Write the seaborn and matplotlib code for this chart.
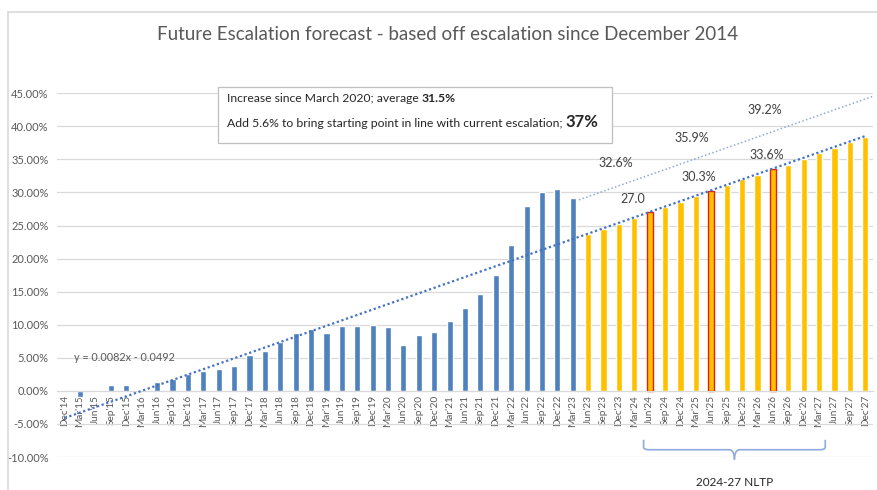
import numpy as np
import pandas as pd
import matplotlib
matplotlib.use("Agg")
import matplotlib.pyplot as plt
from matplotlib.path import Path
from matplotlib.patches import PathPatch, Rectangle
import seaborn as sns

# quarterly labels, Dec'14 .. Dec'27
quarters = [
    "Dec'14",
    "Mar'15", "Jun'15", "Sep'15", "Dec'15",
    "Mar'16", "Jun'16", "Sep'16", "Dec'16",
    "Mar'17", "Jun'17", "Sep'17", "Dec'17",
    "Mar'18", "Jun'18", "Sep'18", "Dec'18",
    "Mar'19", "Jun'19", "Sep'19", "Dec'19",
    "Mar'20", "Jun'20", "Sep'20", "Dec'20",
    "Mar'21", "Jun'21", "Sep'21", "Dec'21",
    "Mar'22", "Jun'22", "Sep'22", "Dec'22",
    "Mar'23", "Jun'23", "Sep'23", "Dec'23",
    "Mar'24", "Jun'24", "Sep'24", "Dec'24",
    "Mar'25", "Jun'25", "Sep'25", "Dec'25",
    "Mar'26", "Jun'26", "Sep'26", "Dec'26",
    "Mar'27", "Jun'27", "Sep'27", "Dec'27",
]

# actual escalation since Dec 2014 (%), Dec'14 .. Mar'23
actual = [0.0, -1.0, -0.2, 0.9, 0.9, 0.1, 1.4, 1.8, 2.6, 3.0, 3.3, 3.8, 5.4,
          6.1, 7.4, 8.8, 9.3, 8.8, 9.8, 9.8, 10.0, 9.6, 7.0, 8.4, 8.9, 10.6,
          12.6, 14.7, 17.5, 22.1, 27.9, 30.0, 30.6, 29.2]
# forecast (%), Jun'23 .. Dec'27
forecast = [23.7, 24.5, 25.3, 26.2, 27.1, 27.8, 28.6, 29.4, 30.3, 31.1, 32.0,
            32.7, 33.6, 34.2, 35.0, 35.9, 36.8, 37.6, 38.4]
highlight = ["Jun'24", "Jun'25", "Jun'26"]

# trendline from the chart label, and the 5.6% shift
trend_slope = 0.0082
trend_intercept = -0.0492
shift = 0.056

point_labels = ["27.0", "30.3%", "33.6%", "32.6%", "35.9%", "39.2%"]

W, H = 877, 490
BLUE = "#4F81BD"
GOLD = "#FFC000"
GREY = "#595959"

df = pd.DataFrame({
    "quarter": quarters,
    "value": np.array(actual + forecast) / 100,
    "kind": ["actual"] * len(actual) + ["forecast"] * len(forecast),
})
colors = {q: (BLUE if k == "actual" else GOLD) for q, k in zip(df["quarter"], df["kind"])}

sns.set_style("white")
plt.rcParams["font.family"] = ["Lato", "DejaVu Sans"]

fig = plt.figure(figsize=(W / 100, H / 100), dpi=100)
ax = fig.add_axes([57 / W, 1 - 457 / H, (873 - 57) / W, (457 - 93.3) / H])

sns.barplot(data=df, x="quarter", y="value", hue="quarter", order=quarters,
            palette=colors, width=0.4, saturation=1, legend=False, ax=ax, zorder=2)

for q, bar in zip(quarters, ax.patches):
    if q in highlight:
        bar.set_edgecolor("#E02010")
        bar.set_linewidth(1.0)

ax.set_xlim(-0.5, len(quarters) - 0.5)
ax.set_ylim(-0.10, 0.45)
ax.set_yticks(np.arange(-0.10, 0.451, 0.05))
ax.set_yticklabels([f"{v * 100:.2f}%" for v in np.arange(-0.10, 0.451, 0.05)])
ax.yaxis.grid(True, color="#D9D9D9", linewidth=0.9, zorder=0)
ax.set_axisbelow(True)
for s in ["top", "right", "left"]:
    ax.spines[s].set_visible(False)
ax.spines["bottom"].set_position(("data", 0))
ax.spines["bottom"].set_color("#D9D9D9")
ax.tick_params(axis="x", length=0, pad=3, labelsize=7.2, labelcolor=GREY, rotation=90)
ax.tick_params(axis="y", length=0, pad=6, labelsize=8, labelcolor=GREY)
ax.set_xlabel("")
ax.set_ylabel("")

# trendlines
xs = np.arange(len(quarters))
ax.plot(xs, trend_slope * (xs + 1) + trend_intercept, ls=(0, (1, 1.2)),
        color="#4472C4", lw=1.6, zorder=3)
xu = np.array([33.4, len(quarters) - 0.5])
ax.plot(xu, trend_slope * (xu + 1) + trend_intercept + shift, ls=(0, (1, 1.5)),
        color="#8FAADC", lw=1.1, zorder=3)

ax.text(3.9, 0.050, "y = 0.0082x - 0.0492", fontsize=7.8, color=GREY,
        ha="center", va="center", zorder=4)

label_pos = [(36.9, 0.290), (41.2, 0.324), (45.6, 0.357),
             (35.8, 0.344), (40.7, 0.383), (45.5, 0.425)]
for txt, (lx, ly) in zip(point_labels, label_pos):
    ax.text(lx, ly, txt, fontsize=9, color="#404040", ha="center", va="center", zorder=4)

# brace under 2024-27
x0, x1, xc = 37.6, 49.4, 43.5
yt, ym, yb = -0.074, -0.089, -0.104
d, e = 0.004, 0.35
for sgn, xe in [(1, x0), (-1, x1)]:
    verts = [(xe, yt), (xe, ym + d), (xe, ym), (xe + sgn * e, ym),
             (xc - sgn * e, ym), (xc, ym), (xc, yb)]
    codes = [Path.MOVETO, Path.LINETO, Path.CURVE3, Path.CURVE3,
             Path.LINETO, Path.CURVE3, Path.CURVE3]
    ax.add_patch(PathPatch(Path(verts, codes), fill=False, edgecolor="#8FAADC",
                           lw=1.2, clip_on=False, zorder=4))
ax.text(xc, -0.138, "2024-27 NLTP", fontsize=8.5, color="#262626",
        ha="center", va="center", clip_on=False)

# title
fig.text(448 / W, 1 - 35 / H, "Future Escalation forecast - based off escalation since December 2014",
         fontsize=13.5, color=GREY, ha="center", va="center")

# chart frame
fig.add_artist(plt.Line2D([8 / W, 8 / W], [0, 1 - 12 / H], color="#D9D9D9", lw=1.2))
fig.add_artist(plt.Line2D([8 / W, 1], [1 - 12 / H, 1 - 12 / H], color="#D9D9D9", lw=1.2))

# note box
fig.add_artist(Rectangle((218 / W, 1 - 143 / H), (612 - 218) / W, (143 - 87) / H,
                         transform=fig.transFigure, facecolor="white",
                         edgecolor="#BFBFBF", lw=0.9, zorder=5))

renderer = fig.canvas.get_renderer()


def chain(pieces, px, py):
    for s, kw in pieces:
        t = fig.text(px / W, 1 - py / H, s, va="baseline", color="#262626", zorder=6, **kw)
        px += t.get_window_extent(renderer).width


chain([("Increase since March 2020; average ", dict(fontsize=8.7)),
       ("31.5%", dict(fontsize=8.7, fontweight="bold"))], 227, 102)
chain([("Add 5.6% to bring starting point in line with current escalation; ", dict(fontsize=8.8)),
       ("37%", dict(fontsize=12, fontweight="bold"))], 227, 127)

fig.savefig("out.png", dpi=100)
